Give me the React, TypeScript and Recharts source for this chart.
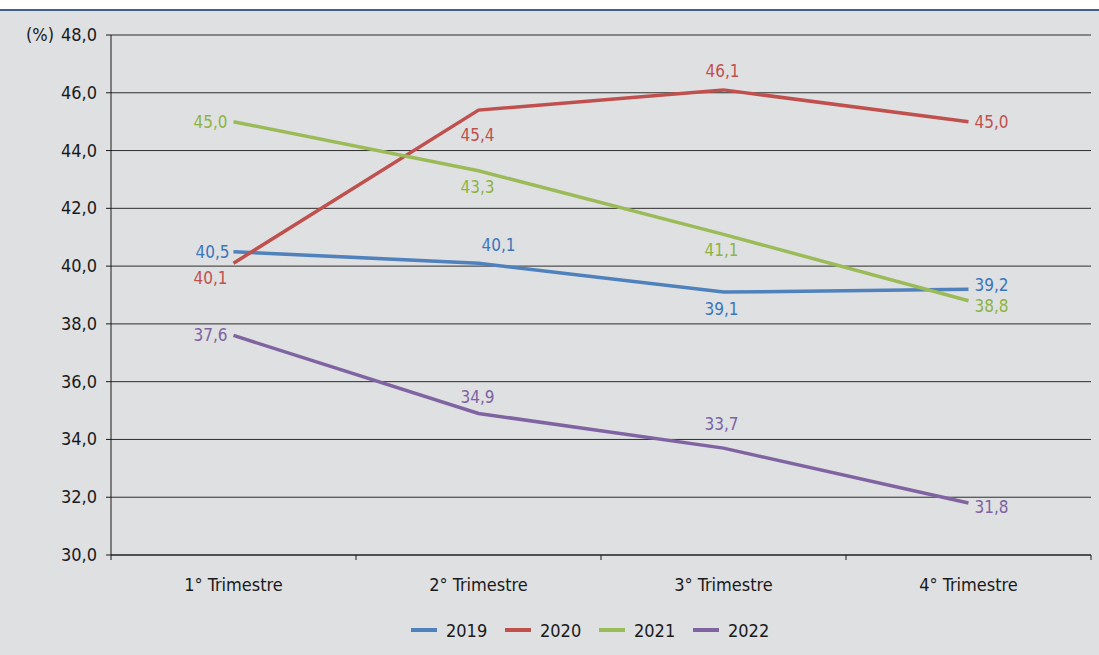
import React from 'react'
import { LineChart, Line, XAxis, YAxis, CartesianGrid, Legend, LabelList } from 'recharts'

const QUARTERS = ['1° Trimestre', '2° Trimestre', '3° Trimestre', '4° Trimestre']
const Y2019 = [40.5, 40.1, 39.1, 39.2]
const Y2020 = [40.1, 45.4, 46.1, 45.0]
const Y2021 = [45.0, 43.3, 41.1, 38.8]
const Y2022 = [37.6, 34.9, 33.7, 31.8]
const Y_TICKS = [30, 32, 34, 36, 38, 40, 42, 44, 46, 48]

const FONT = '"Liberation Sans Narrow", "DejaVu Sans Condensed", "Roboto Condensed", sans-serif'
const W = 1099
const H = 644
const M_LEFT = 111
const M_RIGHT = 8
const HALF_BAND = (W - M_LEFT - M_RIGHT) / QUARTERS.length / 2

const SERIES = [
  { key: 's2019', name: '2019', line: '#4f81bd', text: '#3a76bd' },
  { key: 's2020', name: '2020', line: '#c0504d', text: '#c0504d' },
  { key: 's2021', name: '2021', line: '#9bbb59', text: '#8db43f' },
  { key: 's2022', name: '2022', line: '#8064a2', text: '#7d62a3' },
]

// label placement relative to the point: [dx, dy] of the text centre
const LABEL_OFFSETS: Record<string, [number, number][]> = {
  s2019: [[-21, 0], [20, -18], [-2, 17], [23, -4]],
  s2020: [[-23, 15], [-1, 25], [-1, -19], [23, 0]],
  s2021: [[-23, 0], [-1, 16], [-2, 16], [23, 5]],
  s2022: [[-23, 0], [-1, -16], [-2, -24], [23, 4]],
}

const data = QUARTERS.map((q, i) => ({
  name: q,
  s2019: Y2019[i],
  s2020: Y2020[i],
  s2021: Y2021[i],
  s2022: Y2022[i],
}))

const fmt = (v: number) => v.toFixed(1).replace('.', ',')

const makeLabel = (key: string, color: string) => (props: any) => {
  const { x, y, value, index } = props
  const [dx, dy] = LABEL_OFFSETS[key][index]
  return (
    <text x={x + dx} y={y + dy} dy={6} textAnchor="middle" fill={color} fontSize={17} fontFamily={FONT}>
      {fmt(value)}
    </text>
  )
}

const YTick = (props: any) => {
  const { x, y, payload } = props
  return (
    <g>
      <text x={x} y={y} dy={6} textAnchor="end" fill="#1a1a1a" fontSize={18} fontFamily={FONT}>
        {fmt(payload.value)}
      </text>
      {payload.value === 48 && (
        <text x={x - 43} y={y} dy={6} textAnchor="end" fill="#1a1a1a" fontSize={18} fontFamily={FONT}>
          (%)
        </text>
      )}
    </g>
  )
}

const XTick = (props: any) => {
  const { x, y, payload, index } = props
  const i = payload?.index ?? index
  return (
    <g>
      <line x1={x - HALF_BAND} x2={x - HALF_BAND} y1={y} y2={y + 5} stroke="#1a1a1a" />
      {i === QUARTERS.length - 1 && (
        <line x1={x + HALF_BAND} x2={x + HALF_BAND} y1={y} y2={y + 5} stroke="#1a1a1a" />
      )}
      <text x={x} y={y} dy={36} textAnchor="middle" fill="#1a1a1a" fontSize={18} fontFamily={FONT}>
        {payload.value}
      </text>
    </g>
  )
}

const LegendContent = () => (
  <div style={{ display: 'flex', justifyContent: 'center', alignItems: 'center', height: 50, paddingLeft: 107 }}>
    {SERIES.map(s => (
      <div key={s.key} style={{ display: 'flex', alignItems: 'center', gap: 9, width: 94 }}>
        <div style={{ width: 26, height: 4, background: s.line }} />
        <span style={{ fontFamily: FONT, fontSize: 18, color: '#1a1a1a' }}>{s.name}</span>
      </div>
    ))}
  </div>
)

export default function App() {
  return (
    <div style={{ position: 'fixed', left: 0, top: 0, width: W, height: 655, background: '#ffffff' }}>
      <div style={{ height: 9, background: '#ffffff' }} />
      <div style={{ height: 2, background: '#3b6288' }} />
      <div style={{ height: H, background: '#dfe0e2' }}>
        <LineChart width={W} height={H} data={data} margin={{ top: 24, right: M_RIGHT, left: 0, bottom: 0 }}>
          <CartesianGrid horizontal vertical={false} stroke="#1a1a1a" strokeOpacity={0.9} />
          <XAxis
            dataKey="name"
            height={50}
            padding={{ left: HALF_BAND, right: HALF_BAND }}
            axisLine={{ stroke: '#1a1a1a' }}
            tickLine={false}
            tickSize={0}
            tickMargin={0}
            tick={<XTick />}
            interval={0}
          />
          <YAxis
            width={M_LEFT}
            domain={[30, 48]}
            ticks={Y_TICKS}
            interval={0}
            axisLine={{ stroke: '#1a1a1a' }}
            tickLine={{ stroke: '#1a1a1a' }}
            tickSize={5}
            tickMargin={9}
            tick={<YTick />}
          />
          <Legend verticalAlign="bottom" height={50} content={<LegendContent />} />
          {SERIES.map(s => (
            <Line
              key={s.key}
              type="linear"
              dataKey={s.key}
              name={s.name}
              stroke={s.line}
              strokeWidth={3.5}
              dot={false}
              activeDot={false}
              isAnimationActive={false}
            >
              <LabelList dataKey={s.key} content={makeLabel(s.key, s.text)} />
            </Line>
          ))}
        </LineChart>
      </div>
    </div>
  )
}
